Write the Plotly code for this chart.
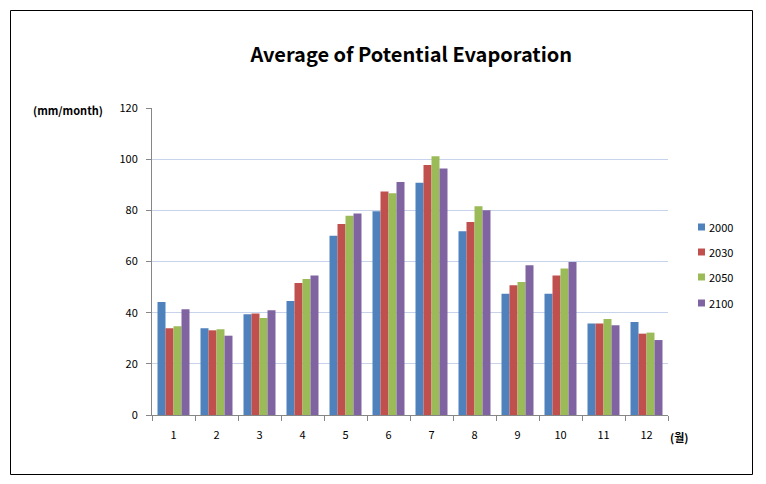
import plotly.graph_objects as go

months = ["1", "2", "3", "4", "5", "6", "7", "8", "9", "10", "11", "12"]
series_names = ["2000", "2030", "2050", "2100"]
v2000 = [44.2, 33.9, 39.4, 44.6, 70.1, 79.6, 90.8, 71.8, 47.4, 47.4, 35.8, 36.4]
v2030 = [33.9, 33.1, 39.7, 51.6, 74.7, 87.4, 97.7, 75.4, 50.7, 54.5, 35.8, 31.8]
v2050 = [34.7, 33.5, 37.9, 53.2, 77.9, 86.7, 101.1, 81.6, 52.0, 57.3, 37.5, 32.2]
v2100 = [41.3, 31.0, 40.9, 54.5, 78.8, 91.1, 96.4, 80.0, 58.5, 59.8, 35.1, 29.3]
y_ticks = [0, 20, 40, 60, 80, 100, 120]

colors = ["#4F81BD", "#C0504D", "#9BBB59", "#8064A2"]
FONT = "Noto Sans CJK KR, DejaVu Sans, sans-serif"

fig = go.Figure()
for name, vals, c in zip(series_names, [v2000, v2030, v2050, v2100], colors):
    fig.add_trace(go.Bar(x=months, y=vals, name=name, marker=dict(color=c, line=dict(width=0)),
                         showlegend=False))

L, R, T, B = 152, 98, 108, 69
W, H = 766, 484
pw, ph = W - L - R, H - T - B

def px_to_paper_x(px):
    return (px - L) / pw

def px_to_paper_y(py):
    return (H - B - py) / ph

fig.update_layout(
    width=W, height=H,
    margin=dict(l=L, r=R, t=T, b=B),
    paper_bgcolor="white", plot_bgcolor="white",
    font=dict(family=FONT, size=11, color="black"),
    bargap=0.256, bargroupgap=0,
    title=dict(text="<b>Average of Potential Evaporation</b>", x=0.537, xanchor="center",
               y=1 - 55 / H, yanchor="middle", font=dict(size=20, family=FONT, color="black")),
    xaxis=dict(showline=True, linecolor="#868686", linewidth=1, ticks="outside",
               tickson="boundaries", ticklen=5, tickcolor="#868686", showgrid=False,
               tickfont=dict(size=11), ticklabelstandoff=10),
    yaxis=dict(range=[0, 120], tickvals=y_ticks, showline=True, linecolor="#868686",
               linewidth=1, ticks="outside", ticklen=5, tickcolor="#868686",
               gridcolor="#C6D3EA", gridwidth=1, zeroline=False, tickfont=dict(size=11),
               ticklabelstandoff=6),
    showlegend=False,
)

fig.add_shape(type="rect", xref="paper", yref="paper",
              x0=px_to_paper_x(10.5), x1=px_to_paper_x(752.5),
              y0=px_to_paper_y(474.5), y1=px_to_paper_y(10.5),
              line=dict(color="black", width=1), layer="below")

# custom legend (small squares + labels)
leg_y = [227, 252, 277, 303]
for name, c, yy in zip(series_names, colors, leg_y):
    fig.add_shape(type="rect", xref="paper", yref="paper",
                  x0=px_to_paper_x(698), x1=px_to_paper_x(705),
                  y0=px_to_paper_y(yy + 3.5), y1=px_to_paper_y(yy - 3.5),
                  fillcolor=c, line=dict(width=0))
    fig.add_annotation(text=name, xref="paper", yref="paper",
                       x=px_to_paper_x(707), y=px_to_paper_y(yy), xanchor="left", yanchor="middle",
                       showarrow=False, font=dict(size=11, family=FONT))

fig.add_annotation(text="<b>(mm/month)</b>", xref="paper", yref="paper",
                   x=px_to_paper_x(68), y=px_to_paper_y(110), xanchor="center", yanchor="middle",
                   showarrow=False, font=dict(size=11, family=FONT))
fig.add_annotation(text="<b>(월)</b>", xref="paper", yref="paper",
                   x=px_to_paper_x(679), y=px_to_paper_y(437), xanchor="center", yanchor="middle",
                   showarrow=False, font=dict(size=11, family=FONT))

fig.write_html("out.html", config={"displayModeBar": False},
               post_script="document.body.style.margin='0';document.body.style.padding='0';")
